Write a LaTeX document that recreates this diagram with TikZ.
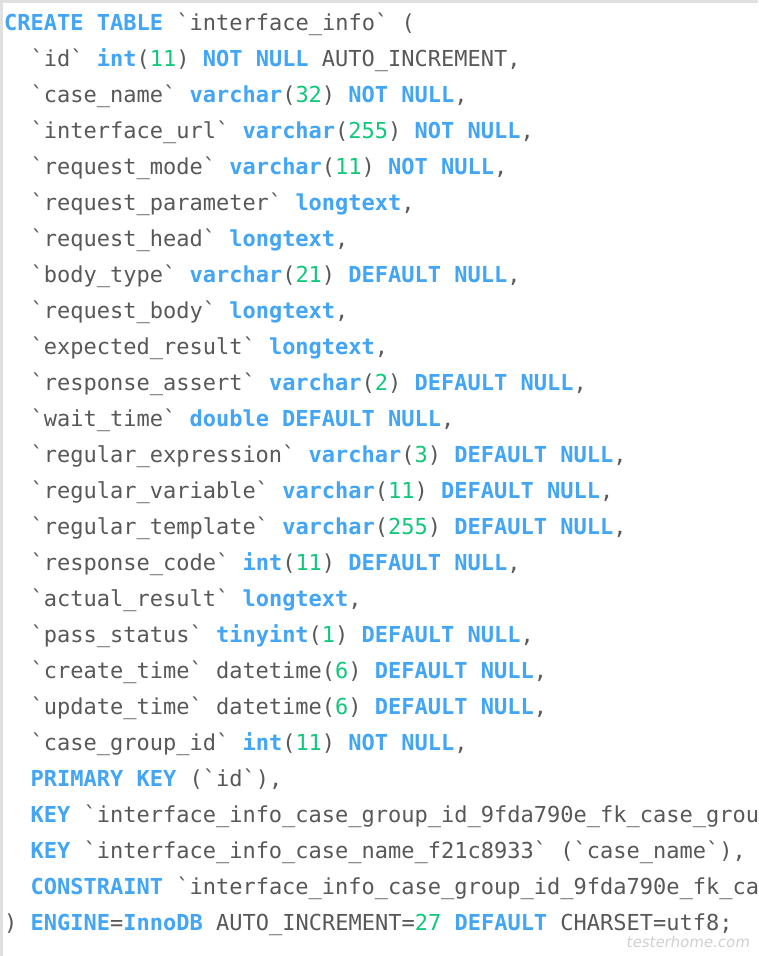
\documentclass[tikz,border=0pt]{standalone}
\usepackage{fontspec}
\setmonofont{DejaVu Sans Mono}
\newfontfamily\markfont{DejaVu Sans}[FakeSlant=0.15]
\usetikzlibrary{positioning}
\definecolor{kwblue}{RGB}{66,165,245}
\definecolor{numgreen}{RGB}{16,200,122}
\definecolor{codegray}{RGB}{88,88,88}
\definecolor{framegray}{RGB}{224,224,224}
\newcommand{\kwd}[1]{\textbf{\color{kwblue}#1}}
\newcommand{\nmb}[1]{{\color{numgreen}#1}}
\begin{document}
\begin{tikzpicture}
[x=1pt, y=-1pt,
 codeline/.style={anchor=base west, inner sep=0pt, text=codegray,
   font=\ttfamily\fontsize{22}{36}\selectfont}]
\useasboundingbox (0,0) rectangle (758,956);
\clip (0,0) rectangle (758,956);
\fill[white] (0,0) rectangle (758,956);
\fill[framegray] (0,0) rectangle (758,3);
\fill[framegray] (0,0) rectangle (2.5,956);
\def\xa{4}
\def\xb{30.4}
\def\ya{30.5}
\def\dy{36}
\node[codeline] (l1) at (\xa,\ya) {\kwd{CREATE TABLE} `interface\_info` (};
\node[codeline] (l2) at (\xb,\ya+1*\dy) {`id` \kwd{int}(\nmb{11}) \kwd{NOT NULL} AUTO\_INCREMENT,};
\node[codeline] (l3) at (\xb,\ya+2*\dy) {`case\_name` \kwd{varchar}(\nmb{32}) \kwd{NOT NULL},};
\node[codeline] (l4) at (\xb,\ya+3*\dy) {`interface\_url` \kwd{varchar}(\nmb{255}) \kwd{NOT NULL},};
\node[codeline] (l5) at (\xb,\ya+4*\dy) {`request\_mode` \kwd{varchar}(\nmb{11}) \kwd{NOT NULL},};
\node[codeline] (l6) at (\xb,\ya+5*\dy) {`request\_parameter` \kwd{longtext},};
\node[codeline] (l7) at (\xb,\ya+6*\dy) {`request\_head` \kwd{longtext},};
\node[codeline] (l8) at (\xb,\ya+7*\dy) {`body\_type` \kwd{varchar}(\nmb{21}) \kwd{DEFAULT NULL},};
\node[codeline] (l9) at (\xb,\ya+8*\dy) {`request\_body` \kwd{longtext},};
\node[codeline] (l10) at (\xb,\ya+9*\dy) {`expected\_result` \kwd{longtext},};
\node[codeline] (l11) at (\xb,\ya+10*\dy) {`response\_assert` \kwd{varchar}(\nmb{2}) \kwd{DEFAULT NULL},};
\node[codeline] (l12) at (\xb,\ya+11*\dy) {`wait\_time` \kwd{double DEFAULT NULL},};
\node[codeline] (l13) at (\xb,\ya+12*\dy) {`regular\_expression` \kwd{varchar}(\nmb{3}) \kwd{DEFAULT NULL},};
\node[codeline] (l14) at (\xb,\ya+13*\dy) {`regular\_variable` \kwd{varchar}(\nmb{11}) \kwd{DEFAULT NULL},};
\node[codeline] (l15) at (\xb,\ya+14*\dy) {`regular\_template` \kwd{varchar}(\nmb{255}) \kwd{DEFAULT NULL},};
\node[codeline] (l16) at (\xb,\ya+15*\dy) {`response\_code` \kwd{int}(\nmb{11}) \kwd{DEFAULT NULL},};
\node[codeline] (l17) at (\xb,\ya+16*\dy) {`actual\_result` \kwd{longtext},};
\node[codeline] (l18) at (\xb,\ya+17*\dy) {`pass\_status` \kwd{tinyint}(\nmb{1}) \kwd{DEFAULT NULL},};
\node[codeline] (l19) at (\xb,\ya+18*\dy) {`create\_time` datetime(\nmb{6}) \kwd{DEFAULT NULL},};
\node[codeline] (l20) at (\xb,\ya+19*\dy) {`update\_time` datetime(\nmb{6}) \kwd{DEFAULT NULL},};
\node[codeline] (l21) at (\xb,\ya+20*\dy) {`case\_group\_id` \kwd{int}(\nmb{11}) \kwd{NOT NULL},};
\node[codeline] (l22) at (\xb,\ya+21*\dy) {\kwd{PRIMARY KEY} (`id`),};
\node[codeline] (l23) at (\xb,\ya+22*\dy) {\kwd{KEY} `interface\_info\_case\_group\_id\_9fda790e\_fk\_case\_grou};
\node[codeline] (l24) at (\xb,\ya+23*\dy) {\kwd{KEY} `interface\_info\_case\_name\_f21c8933` (`case\_name`),};
\node[codeline] (l25) at (\xb,\ya+24*\dy) {\kwd{CONSTRAINT} `interface\_info\_case\_group\_id\_9fda790e\_fk\_ca};
\node[codeline] (l26) at (\xa,\ya+25*\dy) {) \kwd{ENGINE}=\kwd{InnoDB} AUTO\_INCREMENT=\nmb{27} \kwd{DEFAULT} CHARSET=utf8;};
% watermark
\node[anchor=base west, inner sep=0pt, text=black!18,
  font=\markfont\fontsize{15}{15}\selectfont]
  (wmark) at (626,947) {testerhome.com};
\end{tikzpicture}
\end{document}
